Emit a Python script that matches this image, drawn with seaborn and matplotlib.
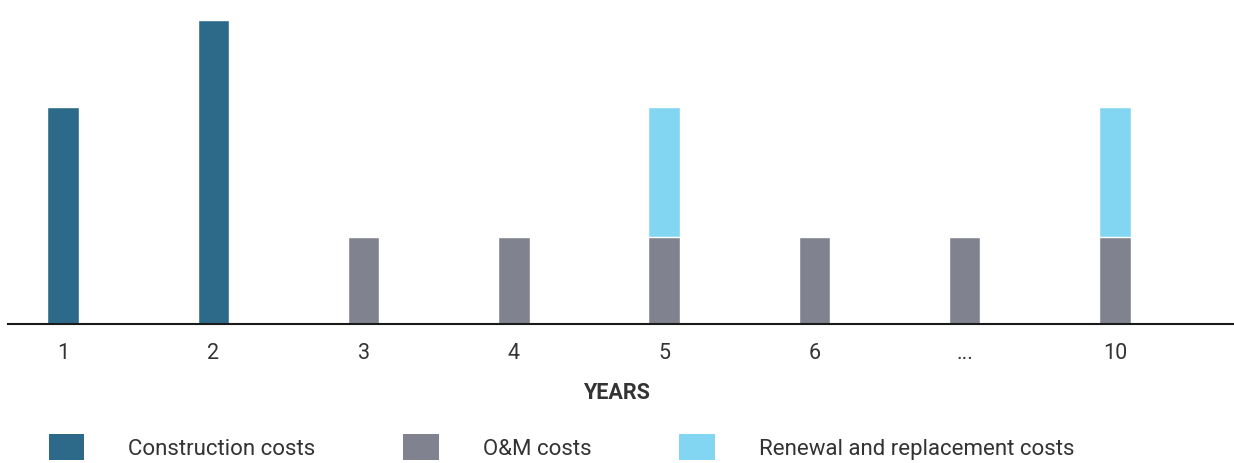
import matplotlib
matplotlib.use("Agg")
import matplotlib.pyplot as plt
from matplotlib.patches import Patch
import seaborn as sns
import pandas as pd

# ---- data ----
years = ["1", "2", "3", "4", "5", "6", "...", "10"]
base_type = ["Construction costs", "Construction costs", "O&M costs", "O&M costs",
             "O&M costs", "O&M costs", "O&M costs", "O&M costs"]
base_values = [2.5, 3.5, 1.0, 1.0, 1.0, 1.0, 1.0, 1.0]
renewal_values = [0, 0, 0, 0, 1.5, 0, 0, 1.5]
legend_labels = ["Construction costs", "O&M costs", "Renewal and replacement costs"]

colors = {"Construction costs": "#2d6a8a",
          "O&M costs": "#80828f",
          "Renewal and replacement costs": "#83d6f1"}

sns.set_theme(style="white")
plt.rcParams["font.family"] = ["Roboto", "DejaVu Sans"]

df = pd.DataFrame({"year": years, "type": base_type, "base": base_values,
                   "renewal": renewal_values})
df["total"] = df["base"] + df["renewal"]

fig = plt.figure(figsize=(12.34, 4.64), dpi=100)
ax = fig.add_axes([8 / 1234, 1 - 325 / 464, 1 - 8 / 1234, 313 / 464])

# total (renewal on top) drawn first, base drawn over it
sns.barplot(data=df, x="year", y="total", color=colors["Renewal and replacement costs"],
            width=0.21, saturation=1, ax=ax, errorbar=None)
sns.barplot(data=df, x="year", y="base", hue="type", palette=colors,
            width=0.21, saturation=1, ax=ax, errorbar=None, dodge=False, legend=False)

ax.set_xlim(-0.366, 7.792)
ax.set_ylim(0, 3.6)
for s in ["top", "right", "left"]:
    ax.spines[s].set_visible(False)
ax.spines["bottom"].set_color("#1a1a1a")
ax.spines["bottom"].set_linewidth(1.5)
ax.set_yticks([])
ax.set_ylabel("")
ax.tick_params(axis="x", length=0, pad=13, labelsize=15.5, labelcolor="#333333")
ax.set_xlabel("YEARS", fontsize=15.5, fontweight="bold", color="#333333")
ax.xaxis.set_label_coords((616 - 8) / 1226, -(382 - 325) / 313)

handles = [Patch(facecolor=colors[l], edgecolor="none") for l in legend_labels]
fig.legend(handles, legend_labels, loc="center left", bbox_to_anchor=(40 / 1234, 1 - 448 / 464),
           ncol=3, frameon=False, fontsize=16, handlelength=1.58, handleheight=1.4,
           handletextpad=2.0, columnspacing=3.95, labelcolor="#333333", borderaxespad=0)

fig.savefig("out.png", dpi=100, facecolor="white")
